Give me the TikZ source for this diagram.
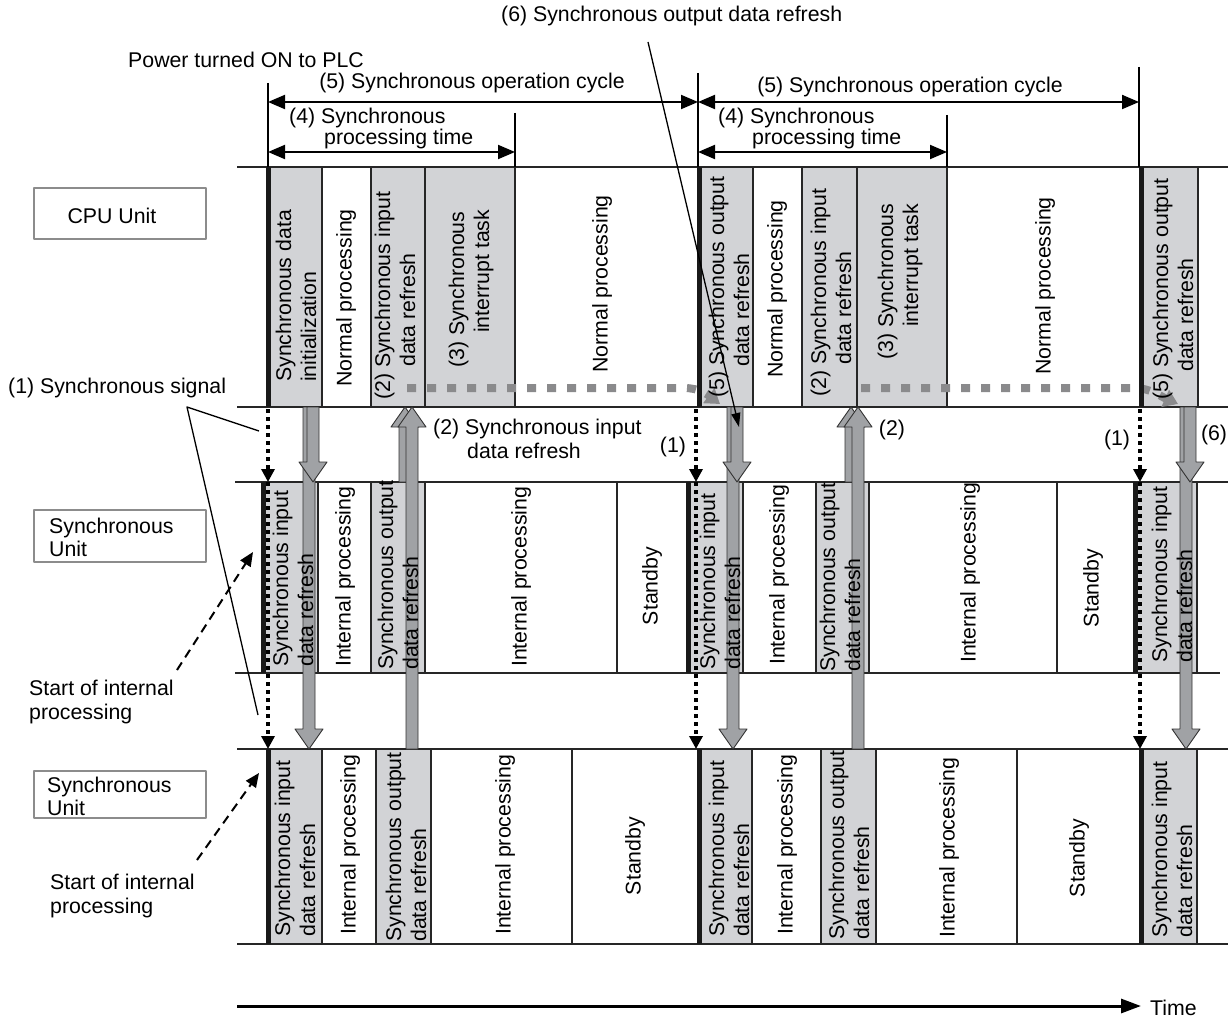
\documentclass[tikz,border=0pt]{standalone}
\usepackage{fontspec}
\setmainfont{Liberation Sans}
\usetikzlibrary{arrows.meta}
\definecolor{cellgray}{RGB}{210,211,214}
\definecolor{arrgray}{RGB}{160,162,165}
\definecolor{flowgray}{RGB}{138,138,140}
\definecolor{boxgray}{RGB}{140,140,140}
\begin{document}
\begin{tikzpicture}[x=1pt, y=-1pt, line join=round, >={Triangle[length=17pt,width=14pt]},
	every node/.style={inner sep=0pt, font=\fontsize{21.3}{24}\selectfont},
	gcell/.style={fill=cellgray, draw=black!85, line width=1.5pt},
	wcell/.style={fill=white, draw=black!85, line width=1.5pt},
	vlab/.style={rotate=90, anchor=west, align=left, font=\fontsize{21.3}{25}\selectfont},
	vmid/.style={rotate=90, anchor=center, font=\fontsize{21.3}{25}\selectfont},
	syncline/.style={line width=5pt, black!90},
	rowline/.style={line width=2pt, black!85},
	sig/.style={line width=4pt, dash pattern=on 4pt off 4pt, -{Triangle[length=13pt,width=13pt]}},
	garr/.style={fill=arrgray, draw=black!80, line width=0.9pt},
	flow/.style={flowgray, line width=8pt, dash pattern=on 9pt off 11pt},
	unitbox/.style={draw=boxgray, line width=1.5pt}]
	\useasboundingbox (0,0) rectangle (1228,1016);
	% 1. Three rows: CPU Unit and two Synchronous Units
	\foreach \a/\b/\s in {268/322/gcell, 322/371/wcell, 371/425/gcell, 425/515/gcell, 515/699/wcell, 699/753/gcell, 753/802/wcell, 802/857/gcell, 857/947/gcell, 947/1141/wcell, 1141/1198/gcell}
		\draw[\s] (\a,167) rectangle (\b,407);
	\foreach \a/\b/\s in {263/318/gcell, 318/371/wcell, 371/425/gcell, 425/617/wcell, 617/688/wcell, 688/743/gcell, 743/816/wcell, 816/869/gcell, 869/1057/wcell, 1057/1135/wcell, 1135/1197/gcell}
		\draw[\s] (\a,482) rectangle (\b,673);
	\foreach \a/\b/\s in {267/322/gcell, 322/376/wcell, 376/431/gcell, 431/572/wcell, 572/699/wcell, 699/752/gcell, 752/821/wcell, 821/876/gcell, 876/1017/wcell, 1017/1141/wcell, 1141/1197/gcell}
		\draw[\s] (\a,749) rectangle (\b,944);
	\draw[rowline] (237,167) -- (1228,167) (237,407) -- (1228,407);
	\draw[rowline] (235,482) -- (1228,482) (235,673) -- (1220,673);
	\draw[rowline] (237,749) -- (1228,749) (237,944) -- (1228,944);
	
	% 2. Data flow inside the CPU Unit
	\draw[flow, -{Triangle[length=14pt,width=18pt]}] (407,388) -- (684,388) .. controls (700,388) and (708,395) .. (720,404);
	\draw[flow, -{Triangle[length=14pt,width=18pt]}] (861,388) -- (1134,388) .. controls (1150,388) and (1160,396) .. (1178,404);
	
	% 3. Refresh arrows (x / tail / neck / tip)
	\foreach \x/\a/\n/\b in {309/407/729/749, 313/407/462/482, 405/482/427/407, 412/749/427/407,
		733/407/729/749, 737/407/462/482, 851/482/427/407, 858/749/427/407,
		1186/407/729/749, 1190/407/462/482}
		\draw[garr] (\x-6,\a) -- (\x-6,\n) -- (\x-14,\n) -- (\x,\b) -- (\x+14,\n) -- (\x+6,\n) -- (\x+6,\a) -- cycle;
	
	% 4. Texts in the cells
	\foreach \x/\y/\t [count=\i] in {296/382/{Synchronous data\\initialization}, 346/387/{Normal processing},
		395/400/{(2) Synchronous input\\\hspace*{33pt}data refresh}, 471/368/{(3) Synchronous\\\hspace*{35pt}interrupt task},
		602/373/{Normal processing}, 729/398/{(5) Synchronous output\\\hspace*{31pt}data refresh},
		777/378/{Normal processing}, 831/397/{(2) Synchronous input\\\hspace*{32pt}data refresh},
		900/360/{(3) Synchronous\\\hspace*{33pt}interrupt task}, 1045/375/{Normal processing},
		1173/400/{(5) Synchronous output\\\hspace*{28pt}data refresh}}
		\node[vlab] (cpu\i) at (\x,\y) {\t};
	\foreach \x/\y/\t [count=\i] in {293/667/{Synchronous input\\data refresh}, 345/667/{Internal processing},
		398/670/{Synchronous output\\data refresh}, 521/667/{Internal processing},
		720/670/{Synchronous input\\data refresh}, 779/665/{Internal processing},
		840/672/{Synchronous output\\data refresh}, 970/663/{Internal processing},
		1172/663/{Synchronous input\\data refresh}}
		\node[vlab] (sa\i) at (\x,\y) {\t};
	\foreach \x/\y/\t [count=\i] in {295/937/{Synchronous input\\data refresh}, 350/935/{Internal processing},
		406/942/{Synchronous output\\data refresh}, 505/935/{Internal processing},
		729/937/{Synchronous input\\data refresh}, 787/935/{Internal processing},
		849/940/{Synchronous output\\data refresh}, 949/938/{Internal processing},
		1172/938/{Synchronous input\\data refresh}}
		\node[vlab] (sb\i) at (\x,\y) {\t};
	\node[vmid] (sa-stby1) at (652,586) {Standby};
	\node[vmid] (sa-stby2) at (1093,588) {Standby};
	\node[vmid] (sb-stby1) at (635,856) {Standby};
	\node[vmid] (sb-stby2) at (1079,858) {Standby};
	
	% 5. Synchronous signal edges
	\foreach \x in {268,699,1141} \draw[syncline] (\x,167) -- (\x,407);
	\foreach \x in {263,688,1135} \draw[syncline] (\x,482) -- (\x,673);
	\foreach \x in {268,699,1141} \draw[syncline] (\x,749) -- (\x,944);
	\foreach \x in {268,696,1140} {
		\draw[sig] (\x,409) -- (\x,482);
		\draw[sig] (\x,482) -- (\x,749);
	}
	
	% 6. Cycle and processing time
	\foreach \x/\y in {268/83, 515/113, 698/73, 947/115, 1139/67}
		\draw[line width=1.2pt] (\x,\y) -- (\x,167);
	\draw[line width=2pt, <->] (268,102) -- (698,102);
	\draw[line width=2pt, <->] (698,102) -- (1139,102);
	\draw[line width=2pt, <->] (268,152) -- (515,152);
	\draw[line width=2pt, <->] (698,152) -- (947,152);
	\node (cyc1) at (472,83) {(5) Synchronous operation cycle};
	\node (cyc2) at (910,87) {(5) Synchronous operation cycle};
	\node[anchor=west, align=left, font=\fontsize{21.3}{21}\selectfont] (proc1) at (289,128) {(4) Synchronous\\\hspace*{35pt}processing time};
	\node[anchor=west, align=left, font=\fontsize{21.3}{21}\selectfont] (proc2) at (718,128) {(4) Synchronous\\\hspace*{34pt}processing time};
	\node[anchor=west] (power) at (128,60) {Power turned ON to PLC};
	\node[anchor=west] (lbl6) at (501,16) {(6) Synchronous output data refresh};
	\coordinate (p6) at (648,42);
	\coordinate (q6) at (739,427);
	\draw[line width=1.3pt, -{Triangle[length=14pt,width=9pt]}] (p6) -- (q6);
	
	% 7. Labels on the left and between the rows
	\draw[unitbox] (34,188) rectangle (206,239);
	\node (cpu) at (112,216) {CPU Unit};
	\draw[unitbox] (34,510) rectangle (206,562);
	\node[anchor=west, align=left, font=\fontsize{21.3}{23}\selectfont] (su1) at (49,537) {Synchronous\\Unit};
	\draw[unitbox] (34,771) rectangle (206,818);
	\node[anchor=west, align=left, font=\fontsize{21.3}{23}\selectfont] (su2) at (47,796) {Synchronous\\Unit};
	\node[anchor=west] (sig1) at (8,388) {(1) Synchronous signal};
	\coordinate (sigfoot) at (187,407);
	\draw[line width=1.3pt] (258,715) -- (sigfoot) -- (259,431);
	\node[anchor=west, align=left] (start1) at (29,702) {Start of internal\\processing};
	\node[anchor=west, align=left] (start2) at (50,896) {Start of internal\\processing};
	\draw[line width=2pt, dash pattern=on 9pt off 6pt, -{Triangle[length=14pt,width=12pt]}] (177,670) -- (253,552);
	\draw[line width=2pt, dash pattern=on 9pt off 6pt, -{Triangle[length=14pt,width=12pt]}] (197,860) -- (259,773);
	\node[anchor=west, align=left] (in2) at (433,439) {(2) Synchronous input\\\hspace*{34pt}data refresh};
	\node (n1a) at (673,447) {(1)};
	\node (n2) at (892,430) {(2)};
	\node (n1b) at (1117,440) {(1)};
	\node (n6) at (1214,435) {(6)};
	
	% 8. Time axis
	\draw[line width=3pt, -{Triangle[length=20pt,width=14pt]}] (237,1006) -- (1141,1006);
	\node[anchor=west] (time) at (1150,1008) {Time};
\end{tikzpicture}
\end{document}
